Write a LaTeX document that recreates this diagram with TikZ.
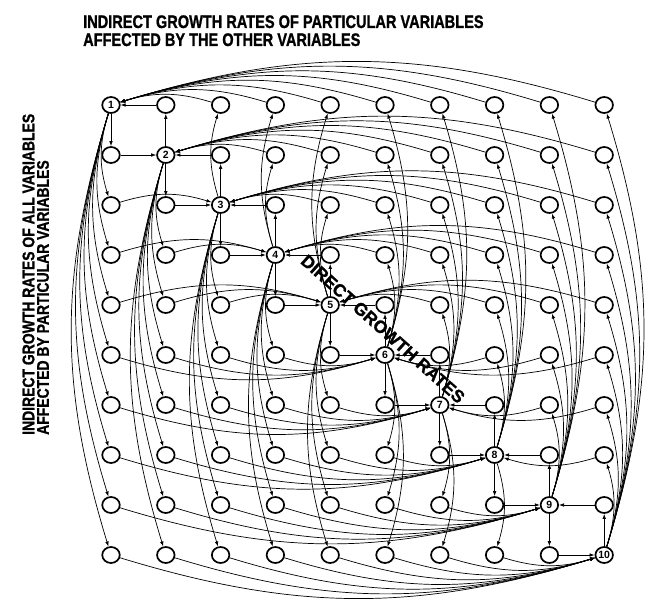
\documentclass[tikz,border=0pt]{standalone}
\usepackage{fontspec}
\setmainfont{Liberation Sans}
\newfontfamily\heavyfont{Liberation Sans Bold}[FakeBold=1.2]
\usetikzlibrary{arrows.meta,backgrounds,shapes.geometric}
\begin{document}
\begin{tikzpicture}[x=1pt,y=-1pt,
  var/.style={ellipse,draw=black,line width=1.7pt,fill=white,minimum width=17.5pt,minimum height=16pt,inner sep=0pt,
              font=\bfseries\fontsize{10.5}{11}\selectfont},
  link/.style={draw=black,line width=0.7pt,-{Latex[length=5pt,width=3.6pt]}},
  ttl/.style={font=\heavyfont\fontsize{18.2}{19}\selectfont,inner sep=0pt},
  side/.style={font=\heavyfont\fontsize{16.8}{18}\selectfont,inner sep=0pt,rotate=90},
  diag/.style={font=\heavyfont\fontsize{17.5}{18}\selectfont,inner sep=0pt,rotate=-41.8}]
\useasboundingbox (0,0) rectangle (649,602);
% titles
\node[ttl,anchor=base west] (t1) at (83,28) {\scalebox{0.8}[1]{INDIRECT GROWTH RATES OF PARTICULAR VARIABLES}};
\node[ttl,anchor=base west] (t2) at (83,46) {\scalebox{0.8}[1]{AFFECTED BY THE OTHER VARIABLES}};
\node[side,anchor=west] (s1) at (28.5,435) {\scalebox{0.83}[1]{INDIRECT GROWTH RATES OF ALL VARIABLES}};
\node[side,anchor=west] (s2) at (43,435) {\scalebox{0.83}[1]{AFFECTED BY PARTICULAR VARIABLES}};
% grid of variables
\foreach \i in {1,...,10}{
  \foreach \j in {1,...,10}{
    \pgfmathsetmacro\xx{111+54.8*(\j-1)}
    \pgfmathsetmacro\yy{105+50*(\i-1)}
    \ifnum\i=\j
      \node[var] (n\i-\j) at (\xx,\yy) {\i};
    \else
      \node[var] (n\i-\j) at (\xx,\yy) {};
    \fi
  }
}
\node[diag] (dg) at (383,329) {DIRECT GROWTH RATES};
% connectors
\begin{pgfonlayer}{background}
\foreach \i in {1,...,10}{
  \foreach \j in {1,...,10}{
    \ifnum\i=\j\relax\else
      \pgfmathtruncatemacro\d{abs(\i-\j)}
      \pgfmathtruncatemacro\s{(\i<=5 ? 1 : -1)*(\j<\i ? 1 : -1)}
      \pgfmathsetmacro\ang{\s*17}
      \ifnum\d=1
        \draw[link] (n\i-\j) -- (n\i-\i);
        \draw[link] (n\i-\i) -- (n\j-\i);
      \else
        \draw[link] (n\i-\j) to[bend left=\ang] (n\i-\i);
        \draw[link] (n\i-\i) to[bend left=\ang] (n\j-\i);
      \fi
    \fi
  }
}
\end{pgfonlayer}
\end{tikzpicture}
\end{document}
